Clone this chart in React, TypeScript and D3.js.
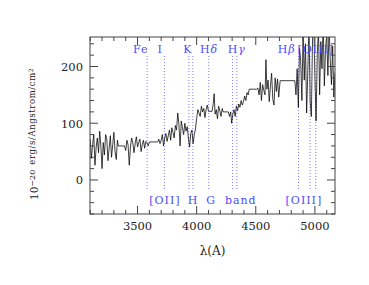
import React from 'react'
import * as d3 from 'd3'

// spectrum samples (wavelength in A, flux in 1e-20 erg/s/A/cm2)
const lambdaA = [
  3100, 3110, 3120, 3130, 3140, 3150, 3160, 3170, 3180, 3190, 3200, 3210, 3220, 3230, 3240, 3250, 3260, 3270, 3280, 3290,
  3300, 3310, 3320, 3330, 3338, 3390, 3400, 3410, 3420, 3430, 3440, 3450, 3460, 3470, 3480, 3490, 3500, 3510, 3520, 3530,
  3540, 3550, 3560, 3570, 3580, 3590, 3600, 3670, 3680, 3690, 3700, 3710, 3720, 3730, 3740, 3750, 3760, 3770, 3780, 3790,
  3800, 3810, 3820, 3830, 3840, 3850, 3860, 3870, 3880, 3890, 3900, 3910, 3920, 3930, 3940, 3950, 3960, 3970, 3980, 3990,
  4000, 4010, 4020, 4030, 4040, 4050, 4060, 4070, 4080, 4090, 4100, 4130, 4140, 4148, 4156, 4166, 4176, 4186, 4196, 4206,
  4216, 4224, 4268, 4278, 4288, 4296, 4306, 4316, 4326, 4336, 4346, 4356, 4366, 4376, 4386, 4396, 4406, 4416, 4426, 4436,
  4444, 4508, 4518, 4528, 4538, 4548, 4558, 4568, 4578, 4586, 4594, 4604, 4614, 4624, 4634, 4644, 4654, 4664, 4674, 4684,
  4694, 4706, 4830, 4840, 4850, 4860, 4870, 4880, 4890, 4900, 4910, 4920, 4930, 4940, 4950, 4960, 4970, 4980, 4990, 5000,
  5010, 5020, 5030, 5040, 5050, 5060, 5070, 5080, 5090, 5100, 5110, 5120, 5130, 5140, 5150, 5160, 5170,
]
const fluxA = [
  72, 38, 62, 80, 26, 58, 74, 48, 86, 60, 20, 66, 44, 80, 72, 34, 56, 78, 40, 62,
  84, 50, 36, 70, 60, 60, 52, 70, 62, 26, 58, 74, 66, 48, 64, 76, 58, 66, 72, 50,
  62, 70, 56, 68, 66, 60, 67, 67, 72, 64, 70, 80, 60, 74, 82, 68, 78, 88, 70, 92,
  84, 74, 96, 88, 118, 98, 60, 104, 92, 80, 100, 86, 94, 74, 58, 82, 88, 64, 80, 90,
  108, 124, 118, 112, 130, 120, 126, 110, 124, 132, 121, 121, 134, 152, 116, 124, 108, 130, 122, 112,
  126, 120, 120, 112, 120, 100, 116, 124, 112, 130, 122, 134, 128, 140, 132, 138, 148, 140, 154, 150,
  160, 160, 162, 150, 172, 140, 168, 158, 150, 212, 160, 176, 138, 166, 188, 142, 132, 180, 156, 178,
  146, 175, 175, 150, 196, 128, 232, 210, 140, 262, 176, 240, 118, 190, 276, 138, 112, 250, 290, 180,
  104, 220, 268, 150, 244, 196, 282, 166, 230, 256, 184, 272, 210, 168, 236, 146, 190,
]

// identified lines (dotted markers)
const lineWaves = [3581, 3727, 3934, 3968, 4102, 4304, 4340, 4861, 4959, 5007]
const topLabels = ['Fe  I', 'K', 'Hδ', 'Hγ', 'Hβ', '[OIII]']
const topLabelWaves = [3588, 3925, 4105, 4340, 4762, 5008]
const bottomLabels = ['[OII]', 'H', 'G  band', '[OIII]']
const bottomLabelWaves = [3732, 3969, 4294, 4907]

const xMajor = [3500, 4000, 4500, 5000]
const yMajor = [0, 100, 200]

const W = 369
const H = 285
const M = { left: 90, right: 335, top: 37, bottom: 214 }
const FONT = 'DejaVu Serif'
const BLUE = '#4b4bff'

function Greek({ s }: { s: string }) {
  // italicise the greek letter after H
  if (s.length === 2 && s[0] === 'H') {
    return (
      <>
        {'H'}
        <tspan fontStyle="italic">{s[1]}</tspan>
      </>
    )
  }
  return <>{s}</>
}

export default function App() {
  const x = d3.scaleLinear().domain([3098, 5170]).range([M.left, M.right])
  const y = d3.scaleLinear().domain([-60, 252]).range([M.bottom, M.top])

  const pts: [number, number][] = lambdaA.map((l, i) => [l, fluxA[i]])
  const line = d3
    .line<[number, number]>()
    .x((d) => x(d[0]))
    .y((d) => y(d[1]))

  const xMinor = d3.range(3100, 5171, 100).filter((v) => !xMajor.includes(v))
  const yMinor = d3.range(-60, 252, 20).filter((v) => !yMajor.includes(v))

  return (
    <svg
      width={W}
      height={H}
      style={{ position: 'absolute', left: 0, top: 0, background: '#fff' }}
      fontFamily={FONT}
    >
      <defs>
        <clipPath id="plot">
          <rect x={M.left} y={M.top} width={M.right - M.left} height={M.bottom - M.top} />
        </clipPath>
      </defs>

      {/* line markers */}
      {lineWaves.map((l) => (
        <line
          key={'m' + l}
          x1={x(l)}
          x2={x(l)}
          y1={56}
          y2={190}
          stroke="#7b7bff"
          strokeWidth={1}
          strokeDasharray="1 2"
        />
      ))}

      <path d={line(pts) || ''} fill="none" stroke="#000" strokeWidth={0.75} clipPath="url(#plot)" />

      {/* frame */}
      <rect
        x={M.left}
        y={M.top}
        width={M.right - M.left}
        height={M.bottom - M.top}
        fill="none"
        stroke="#444"
        strokeWidth={1}
      />

      {/* ticks on all four sides */}
      <g stroke="#444" strokeWidth={1}>
        {xMajor.map((v) => (
          <g key={'xm' + v}>
            <line x1={x(v)} x2={x(v)} y1={M.bottom} y2={M.bottom - 8} />
            <line x1={x(v)} x2={x(v)} y1={M.top} y2={M.top + 8} />
          </g>
        ))}
        {xMinor.map((v) => (
          <g key={'xn' + v}>
            <line x1={x(v)} x2={x(v)} y1={M.bottom} y2={M.bottom - 4} />
            <line x1={x(v)} x2={x(v)} y1={M.top} y2={M.top + 4} />
          </g>
        ))}
        {yMajor.map((v) => (
          <g key={'ym' + v}>
            <line x1={M.left} x2={M.left + 8} y1={y(v)} y2={y(v)} />
            <line x1={M.right} x2={M.right - 8} y1={y(v)} y2={y(v)} />
          </g>
        ))}
        {yMinor.map((v) => (
          <g key={'yn' + v}>
            <line x1={M.left} x2={M.left + 4} y1={y(v)} y2={y(v)} />
            <line x1={M.right} x2={M.right - 4} y1={y(v)} y2={y(v)} />
          </g>
        ))}
      </g>

      {/* tick labels */}
      <g fontSize={11.5} fill="#222">
        {xMajor.map((v) => (
          <text key={'xl' + v} x={x(v)} y={230} textAnchor="middle">
            {v}
          </text>
        ))}
        {yMajor.map((v) => (
          <text key={'yl' + v} x={83} y={y(v) + 4.5} textAnchor="end">
            {v}
          </text>
        ))}
      </g>

      {/* axis titles */}
      <text x={(M.left + M.right) / 2} y={255} textAnchor="middle" fontSize={12} fill="#222">
        λ(A)
      </text>
      <text transform="translate(38,200) rotate(-90)" fill="#222" fontSize={10.5}>
        10
        <tspan fontSize={8} dy={-3}>
          −20
        </tspan>
        <tspan fontSize={8.5} dx={5} letterSpacing={0.6}>
          erg/s/Angstrom/cm
        </tspan>
        <tspan fontSize={6} dy={-2.5}>
          2
        </tspan>
      </text>

      {/* line labels */}
      <g fontSize={11} fill={BLUE} letterSpacing={1} textAnchor="middle">
        {topLabels.map((t, i) => (
          <text key={'tl' + i} x={x(topLabelWaves[i])} y={53} style={{ whiteSpace: 'pre' }}>
            <Greek s={t} />
          </text>
        ))}
        {bottomLabels.map((t, i) => (
          <text key={'bl' + i} x={x(bottomLabelWaves[i])} y={204} style={{ whiteSpace: 'pre' }}>
            {t}
          </text>
        ))}
      </g>
    </svg>
  )
}
